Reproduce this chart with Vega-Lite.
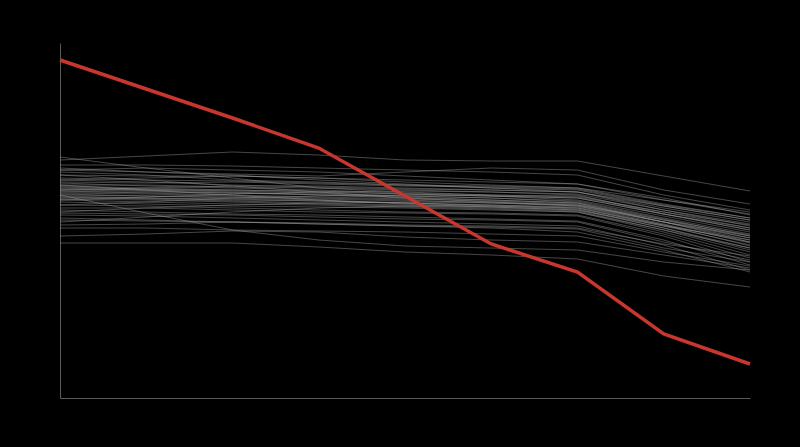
{
  "$schema": "https://vega.github.io/schema/vega-lite/v6.json",
  "width": 690,
  "height": 355,
  "autosize": {"type": "none"},
  "padding": {"left": 60, "top": 43, "right": 50, "bottom": 49},
  "background": "#000000",
  "config": {
    "view": {"stroke": null},
    "axis": {"grid": false, "ticks": false, "labels": false, "title": null, "domainColor": "#5a5a5a", "domainWidth": 1}
  },
  "datasets": {
    "gray": [
      {"s":"g1","x":0,"v":238},{"s":"g1","x":1,"v":242},{"s":"g1","x":2,"v":246},{"s":"g1","x":3,"v":243},{"s":"g1","x":4,"v":238},{"s":"g1","x":5,"v":237},{"s":"g1","x":6,"v":237},{"s":"g1","x":7,"v":222},{"s":"g1","x":8,"v":207},
      {"s":"g2","x":0,"v":241},{"s":"g2","x":1,"v":230},{"s":"g2","x":2,"v":220},{"s":"g2","x":3,"v":210},{"s":"g2","x":4,"v":206},{"s":"g2","x":5,"v":203},{"s":"g2","x":6,"v":201},{"s":"g2","x":7,"v":186},{"s":"g2","x":8,"v":173},
      {"s":"g3","x":0,"v":233},{"s":"g3","x":1,"v":233},{"s":"g3","x":2,"v":232},{"s":"g3","x":3,"v":230},{"s":"g3","x":4,"v":228},{"s":"g3","x":5,"v":226},{"s":"g3","x":6,"v":223},{"s":"g3","x":7,"v":203},{"s":"g3","x":8,"v":188},
      {"s":"g4","x":0,"v":228},{"s":"g4","x":1,"v":226},{"s":"g4","x":2,"v":224},{"s":"g4","x":3,"v":222},{"s":"g4","x":4,"v":226},{"s":"g4","x":5,"v":230},{"s":"g4","x":6,"v":228},{"s":"g4","x":7,"v":208},{"s":"g4","x":8,"v":194},
      {"s":"g5","x":0,"v":226},{"s":"g5","x":1,"v":223},{"s":"g5","x":2,"v":218},{"s":"g5","x":3,"v":216},{"s":"g5","x":4,"v":213},{"s":"g5","x":5,"v":212},{"s":"g5","x":6,"v":210},{"s":"g5","x":7,"v":198},{"s":"g5","x":8,"v":186},
      {"s":"g6","x":0,"v":223},{"s":"g6","x":1,"v":222},{"s":"g6","x":2,"v":222},{"s":"g6","x":3,"v":220},{"s":"g6","x":4,"v":218},{"s":"g6","x":5,"v":216},{"s":"g6","x":6,"v":214},{"s":"g6","x":7,"v":200},{"s":"g6","x":8,"v":183},
      {"s":"g7","x":0,"v":220},{"s":"g7","x":1,"v":218},{"s":"g7","x":2,"v":217},{"s":"g7","x":3,"v":215},{"s":"g7","x":4,"v":213},{"s":"g7","x":5,"v":210},{"s":"g7","x":6,"v":208},{"s":"g7","x":7,"v":192},{"s":"g7","x":8,"v":178},
      {"s":"g8","x":0,"v":218},{"s":"g8","x":1,"v":216},{"s":"g8","x":2,"v":213},{"s":"g8","x":3,"v":211},{"s":"g8","x":4,"v":209},{"s":"g8","x":5,"v":208},{"s":"g8","x":6,"v":206},{"s":"g8","x":7,"v":190},{"s":"g8","x":8,"v":176},
      {"s":"g9","x":0,"v":216},{"s":"g9","x":1,"v":215},{"s":"g9","x":2,"v":216},{"s":"g9","x":3,"v":214},{"s":"g9","x":4,"v":212},{"s":"g9","x":5,"v":211},{"s":"g9","x":6,"v":209},{"s":"g9","x":7,"v":193},{"s":"g9","x":8,"v":180},
      {"s":"g10","x":0,"v":215},{"s":"g10","x":1,"v":212},{"s":"g10","x":2,"v":210},{"s":"g10","x":3,"v":208},{"s":"g10","x":4,"v":205},{"s":"g10","x":5,"v":203},{"s":"g10","x":6,"v":202},{"s":"g10","x":7,"v":186},{"s":"g10","x":8,"v":170},
      {"s":"g11","x":0,"v":213},{"s":"g11","x":1,"v":213},{"s":"g11","x":2,"v":211},{"s":"g11","x":3,"v":210},{"s":"g11","x":4,"v":208},{"s":"g11","x":5,"v":206},{"s":"g11","x":6,"v":203},{"s":"g11","x":7,"v":184},{"s":"g11","x":8,"v":168},
      {"s":"g12","x":0,"v":212},{"s":"g12","x":1,"v":210},{"s":"g12","x":2,"v":208},{"s":"g12","x":3,"v":207},{"s":"g12","x":4,"v":204},{"s":"g12","x":5,"v":202},{"s":"g12","x":6,"v":198},{"s":"g12","x":7,"v":182},{"s":"g12","x":8,"v":166},
      {"s":"g13","x":0,"v":211},{"s":"g13","x":1,"v":209},{"s":"g13","x":2,"v":207},{"s":"g13","x":3,"v":205},{"s":"g13","x":4,"v":202},{"s":"g13","x":5,"v":200},{"s":"g13","x":6,"v":197},{"s":"g13","x":7,"v":180},{"s":"g13","x":8,"v":164},
      {"s":"g14","x":0,"v":210},{"s":"g14","x":1,"v":208},{"s":"g14","x":2,"v":208},{"s":"g14","x":3,"v":206},{"s":"g14","x":4,"v":204},{"s":"g14","x":5,"v":202},{"s":"g14","x":6,"v":200},{"s":"g14","x":7,"v":184},{"s":"g14","x":8,"v":168},
      {"s":"g15","x":0,"v":209},{"s":"g15","x":1,"v":208},{"s":"g15","x":2,"v":206},{"s":"g15","x":3,"v":203},{"s":"g15","x":4,"v":201},{"s":"g15","x":5,"v":198},{"s":"g15","x":6,"v":195},{"s":"g15","x":7,"v":178},{"s":"g15","x":8,"v":160},
      {"s":"g16","x":0,"v":208},{"s":"g16","x":1,"v":207},{"s":"g16","x":2,"v":205},{"s":"g16","x":3,"v":204},{"s":"g16","x":4,"v":202},{"s":"g16","x":5,"v":200},{"s":"g16","x":6,"v":196},{"s":"g16","x":7,"v":179},{"s":"g16","x":8,"v":162},
      {"s":"g17","x":0,"v":207},{"s":"g17","x":1,"v":205},{"s":"g17","x":2,"v":203},{"s":"g17","x":3,"v":201},{"s":"g17","x":4,"v":199},{"s":"g17","x":5,"v":197},{"s":"g17","x":6,"v":194},{"s":"g17","x":7,"v":176},{"s":"g17","x":8,"v":158},
      {"s":"g18","x":0,"v":206},{"s":"g18","x":1,"v":206},{"s":"g18","x":2,"v":205},{"s":"g18","x":3,"v":203},{"s":"g18","x":4,"v":200},{"s":"g18","x":5,"v":198},{"s":"g18","x":6,"v":195},{"s":"g18","x":7,"v":176},{"s":"g18","x":8,"v":156},
      {"s":"g19","x":0,"v":205},{"s":"g19","x":1,"v":204},{"s":"g19","x":2,"v":202},{"s":"g19","x":3,"v":200},{"s":"g19","x":4,"v":198},{"s":"g19","x":5,"v":195},{"s":"g19","x":6,"v":192},{"s":"g19","x":7,"v":174},{"s":"g19","x":8,"v":155},
      {"s":"g20","x":0,"v":204},{"s":"g20","x":1,"v":202},{"s":"g20","x":2,"v":201},{"s":"g20","x":3,"v":199},{"s":"g20","x":4,"v":197},{"s":"g20","x":5,"v":196},{"s":"g20","x":6,"v":193},{"s":"g20","x":7,"v":178},{"s":"g20","x":8,"v":163},
      {"s":"g21","x":0,"v":203},{"s":"g21","x":1,"v":202},{"s":"g21","x":2,"v":200},{"s":"g21","x":3,"v":198},{"s":"g21","x":4,"v":195},{"s":"g21","x":5,"v":193},{"s":"g21","x":6,"v":190},{"s":"g21","x":7,"v":172},{"s":"g21","x":8,"v":153},
      {"s":"g22","x":0,"v":202},{"s":"g22","x":1,"v":200},{"s":"g22","x":2,"v":198},{"s":"g22","x":3,"v":197},{"s":"g22","x":4,"v":195},{"s":"g22","x":5,"v":193},{"s":"g22","x":6,"v":191},{"s":"g22","x":7,"v":173},{"s":"g22","x":8,"v":152},
      {"s":"g23","x":0,"v":201},{"s":"g23","x":1,"v":199},{"s":"g23","x":2,"v":197},{"s":"g23","x":3,"v":195},{"s":"g23","x":4,"v":193},{"s":"g23","x":5,"v":191},{"s":"g23","x":6,"v":188},{"s":"g23","x":7,"v":170},{"s":"g23","x":8,"v":150},
      {"s":"g24","x":0,"v":200},{"s":"g24","x":1,"v":200},{"s":"g24","x":2,"v":199},{"s":"g24","x":3,"v":197},{"s":"g24","x":4,"v":195},{"s":"g24","x":5,"v":192},{"s":"g24","x":6,"v":189},{"s":"g24","x":7,"v":170},{"s":"g24","x":8,"v":148},
      {"s":"g25","x":0,"v":199},{"s":"g25","x":1,"v":198},{"s":"g25","x":2,"v":196},{"s":"g25","x":3,"v":194},{"s":"g25","x":4,"v":192},{"s":"g25","x":5,"v":190},{"s":"g25","x":6,"v":187},{"s":"g25","x":7,"v":168},{"s":"g25","x":8,"v":146},
      {"s":"g26","x":0,"v":198},{"s":"g26","x":1,"v":196},{"s":"g26","x":2,"v":194},{"s":"g26","x":3,"v":193},{"s":"g26","x":4,"v":191},{"s":"g26","x":5,"v":189},{"s":"g26","x":6,"v":186},{"s":"g26","x":7,"v":166},{"s":"g26","x":8,"v":143},
      {"s":"g27","x":0,"v":203},{"s":"g27","x":1,"v":185},{"s":"g27","x":2,"v":168},{"s":"g27","x":3,"v":158},{"s":"g27","x":4,"v":152},{"s":"g27","x":5,"v":150},{"s":"g27","x":6,"v":148},{"s":"g27","x":7,"v":136},{"s":"g27","x":8,"v":128},
      {"s":"g28","x":0,"v":155},{"s":"g28","x":1,"v":155},{"s":"g28","x":2,"v":155},{"s":"g28","x":3,"v":151},{"s":"g28","x":4,"v":146},{"s":"g28","x":5,"v":143},{"s":"g28","x":6,"v":139},{"s":"g28","x":7,"v":122},{"s":"g28","x":8,"v":111},
      {"s":"g29","x":0,"v":162},{"s":"g29","x":1,"v":164},{"s":"g29","x":2,"v":167},{"s":"g29","x":3,"v":166},{"s":"g29","x":4,"v":161},{"s":"g29","x":5,"v":158},{"s":"g29","x":6,"v":156},{"s":"g29","x":7,"v":143},{"s":"g29","x":8,"v":130},
      {"s":"g30","x":0,"v":193},{"s":"g30","x":1,"v":192},{"s":"g30","x":2,"v":190},{"s":"g30","x":3,"v":188},{"s":"g30","x":4,"v":186},{"s":"g30","x":5,"v":185},{"s":"g30","x":6,"v":183},{"s":"g30","x":7,"v":164},{"s":"g30","x":8,"v":140},
      {"s":"g31","x":0,"v":190},{"s":"g31","x":1,"v":190},{"s":"g31","x":2,"v":188},{"s":"g31","x":3,"v":186},{"s":"g31","x":4,"v":185},{"s":"g31","x":5,"v":184},{"s":"g31","x":6,"v":182},{"s":"g31","x":7,"v":162},{"s":"g31","x":8,"v":136},
      {"s":"g32","x":0,"v":188},{"s":"g32","x":1,"v":186},{"s":"g32","x":2,"v":184},{"s":"g32","x":3,"v":183},{"s":"g32","x":4,"v":181},{"s":"g32","x":5,"v":179},{"s":"g32","x":6,"v":177},{"s":"g32","x":7,"v":158},{"s":"g32","x":8,"v":133},
      {"s":"g33","x":0,"v":185},{"s":"g33","x":1,"v":184},{"s":"g33","x":2,"v":183},{"s":"g33","x":3,"v":181},{"s":"g33","x":4,"v":179},{"s":"g33","x":5,"v":178},{"s":"g33","x":6,"v":176},{"s":"g33","x":7,"v":156},{"s":"g33","x":8,"v":138},
      {"s":"g34","x":0,"v":183},{"s":"g34","x":1,"v":182},{"s":"g34","x":2,"v":180},{"s":"g34","x":3,"v":178},{"s":"g34","x":4,"v":176},{"s":"g34","x":5,"v":174},{"s":"g34","x":6,"v":172},{"s":"g34","x":7,"v":153},{"s":"g34","x":8,"v":128},
      {"s":"g35","x":0,"v":180},{"s":"g35","x":1,"v":178},{"s":"g35","x":2,"v":176},{"s":"g35","x":3,"v":174},{"s":"g35","x":4,"v":172},{"s":"g35","x":5,"v":171},{"s":"g35","x":6,"v":169},{"s":"g35","x":7,"v":150},{"s":"g35","x":8,"v":136},
      {"s":"g36","x":0,"v":178},{"s":"g36","x":1,"v":177},{"s":"g36","x":2,"v":176},{"s":"g36","x":3,"v":174},{"s":"g36","x":4,"v":172},{"s":"g36","x":5,"v":170},{"s":"g36","x":6,"v":166},{"s":"g36","x":7,"v":148},{"s":"g36","x":8,"v":126},
      {"s":"g37","x":0,"v":173},{"s":"g37","x":1,"v":174},{"s":"g37","x":2,"v":176},{"s":"g37","x":3,"v":175},{"s":"g37","x":4,"v":173},{"s":"g37","x":5,"v":172},{"s":"g37","x":6,"v":170},{"s":"g37","x":7,"v":154},{"s":"g37","x":8,"v":142},
      {"s":"g38","x":0,"v":170},{"s":"g38","x":1,"v":170},{"s":"g38","x":2,"v":168},{"s":"g38","x":3,"v":167},{"s":"g38","x":4,"v":166},{"s":"g38","x":5,"v":164},{"s":"g38","x":6,"v":162},{"s":"g38","x":7,"v":146},{"s":"g38","x":8,"v":132},
      {"s":"g39","x":0,"v":218},{"s":"g39","x":1,"v":220},{"s":"g39","x":2,"v":222},{"s":"g39","x":3,"v":220},{"s":"g39","x":4,"v":216},{"s":"g39","x":5,"v":213},{"s":"g39","x":6,"v":210},{"s":"g39","x":7,"v":194},{"s":"g39","x":8,"v":180},
      {"s":"g40","x":0,"v":230},{"s":"g40","x":1,"v":226},{"s":"g40","x":2,"v":223},{"s":"g40","x":3,"v":218},{"s":"g40","x":4,"v":214},{"s":"g40","x":5,"v":210},{"s":"g40","x":6,"v":206},{"s":"g40","x":7,"v":188},{"s":"g40","x":8,"v":172},
      {"s":"g41","x":0,"v":198},{"s":"g41","x":1,"v":201},{"s":"g41","x":2,"v":204},{"s":"g41","x":3,"v":206},{"s":"g41","x":4,"v":207},{"s":"g41","x":5,"v":206},{"s":"g41","x":6,"v":204},{"s":"g41","x":7,"v":188},{"s":"g41","x":8,"v":174},
      {"s":"g42","x":0,"v":193},{"s":"g42","x":1,"v":196},{"s":"g42","x":2,"v":200},{"s":"g42","x":3,"v":202},{"s":"g42","x":4,"v":203},{"s":"g42","x":5,"v":202},{"s":"g42","x":6,"v":200},{"s":"g42","x":7,"v":184},{"s":"g42","x":8,"v":170},
      {"s":"g43","x":0,"v":208},{"s":"g43","x":1,"v":210},{"s":"g43","x":2,"v":212},{"s":"g43","x":3,"v":212},{"s":"g43","x":4,"v":210},{"s":"g43","x":5,"v":208},{"s":"g43","x":6,"v":206},{"s":"g43","x":7,"v":192},{"s":"g43","x":8,"v":178},
      {"s":"g44","x":0,"v":213},{"s":"g44","x":1,"v":208},{"s":"g44","x":2,"v":203},{"s":"g44","x":3,"v":198},{"s":"g44","x":4,"v":194},{"s":"g44","x":5,"v":191},{"s":"g44","x":6,"v":188},{"s":"g44","x":7,"v":172},{"s":"g44","x":8,"v":158},
      {"s":"g45","x":0,"v":223},{"s":"g45","x":1,"v":218},{"s":"g45","x":2,"v":212},{"s":"g45","x":3,"v":206},{"s":"g45","x":4,"v":200},{"s":"g45","x":5,"v":196},{"s":"g45","x":6,"v":192},{"s":"g45","x":7,"v":176},{"s":"g45","x":8,"v":162},
      {"s":"g46","x":0,"v":186},{"s":"g46","x":1,"v":190},{"s":"g46","x":2,"v":193},{"s":"g46","x":3,"v":195},{"s":"g46","x":4,"v":196},{"s":"g46","x":5,"v":195},{"s":"g46","x":6,"v":193},{"s":"g46","x":7,"v":176},{"s":"g46","x":8,"v":160},
      {"s":"g47","x":0,"v":176},{"s":"g47","x":1,"v":181},{"s":"g47","x":2,"v":186},{"s":"g47","x":3,"v":190},{"s":"g47","x":4,"v":192},{"s":"g47","x":5,"v":192},{"s":"g47","x":6,"v":190},{"s":"g47","x":7,"v":173},{"s":"g47","x":8,"v":156},
      {"s":"g48","x":0,"v":228},{"s":"g48","x":1,"v":230},{"s":"g48","x":2,"v":228},{"s":"g48","x":3,"v":226},{"s":"g48","x":4,"v":222},{"s":"g48","x":5,"v":218},{"s":"g48","x":6,"v":214},{"s":"g48","x":7,"v":198},{"s":"g48","x":8,"v":184},
      {"s":"g49","x":0,"v":196},{"s":"g49","x":1,"v":194},{"s":"g49","x":2,"v":192},{"s":"g49","x":3,"v":191},{"s":"g49","x":4,"v":190},{"s":"g49","x":5,"v":188},{"s":"g49","x":6,"v":186},{"s":"g49","x":7,"v":168},{"s":"g49","x":8,"v":150}
    ],
    "red": [
      {"s":"r","x":0,"v":338},{"s":"r","x":1,"v":309},{"s":"r","x":2,"v":280},{"s":"r","x":3,"v":250},{"s":"r","x":4,"v":202},{"s":"r","x":5,"v":154},{"s":"r","x":6,"v":126},{"s":"r","x":7,"v":64},{"s":"r","x":8,"v":34}
    ]
  },
  "layer": [
    {
      "data": {"name": "gray"},
      "mark": {"type": "line", "stroke": "#a0a0a0", "strokeWidth": 0.8, "opacity": 0.55},
      "encoding": {
        "x": {"field": "x", "type": "quantitative", "scale": {"domain": [0, 8], "nice": false, "zero": false}},
        "y": {"field": "v", "type": "quantitative", "scale": {"domain": [0, 355], "nice": false}},
        "detail": {"field": "s", "type": "nominal"}
      }
    },
    {
      "data": {"name": "red"},
      "mark": {"type": "line", "stroke": "#c8372d", "strokeWidth": 3.5},
      "encoding": {
        "x": {"field": "x", "type": "quantitative"},
        "y": {"field": "v", "type": "quantitative"}
      }
    }
  ]
}
